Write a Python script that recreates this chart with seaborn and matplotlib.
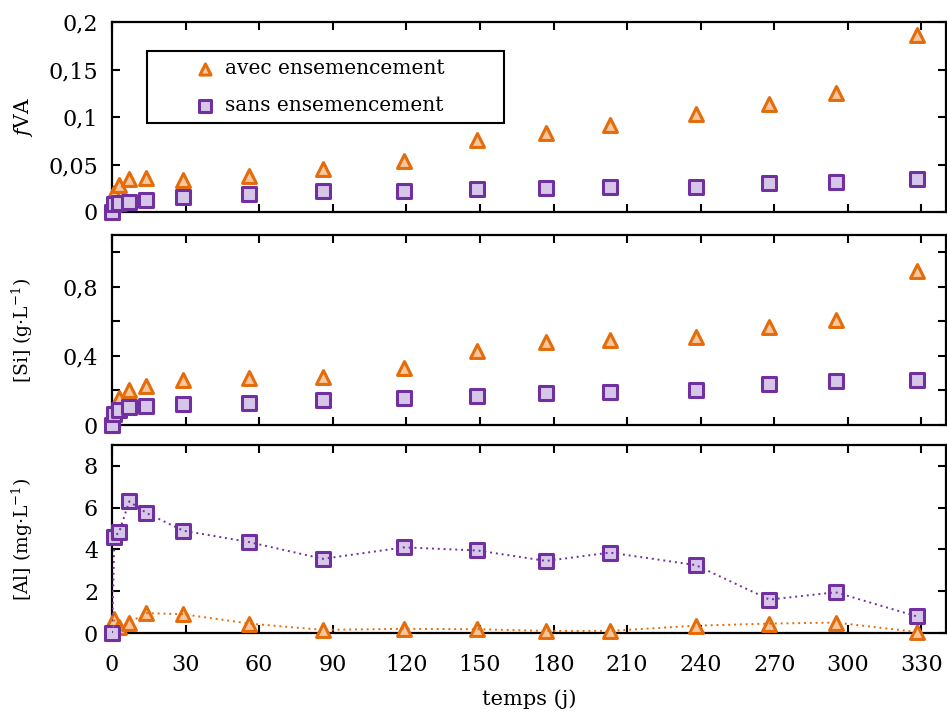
import matplotlib
matplotlib.use("Agg")
import matplotlib.pyplot as plt
import matplotlib.patches as mpatches
import seaborn as sns
import pandas as pd
from matplotlib.ticker import FixedLocator, FuncFormatter

sns.set_style("ticks")
plt.rcParams['font.family'] = ['DejaVu Serif']
plt.rcParams['mathtext.fontset'] = 'dejavuserif'
for k in ['axes.edgecolor', 'text.color', 'xtick.color', 'ytick.color', 'axes.labelcolor']:
    plt.rcParams[k] = 'black'

days = [0, 1, 3, 7, 14, 29, 56, 86, 119, 149, 177, 203, 238, 268, 295, 328]

fva_avec = [0, 0.020, 0.028, 0.035, 0.036, 0.034, 0.038, 0.045, 0.054, 0.076, 0.083,
            0.092, 0.103, 0.114, 0.125, 0.186]
fva_sans = [0, 0.008, 0.010, 0.011, 0.013, 0.016, 0.019, 0.022, 0.022, 0.024, 0.025,
            0.026, 0.026, 0.031, 0.032, 0.035]

si_avec = [0, 0.10, 0.155, 0.205, 0.225, 0.26, 0.27, 0.28, 0.33, 0.43, 0.48,
           0.49, 0.51, 0.57, 0.61, 0.89]
si_sans = [0, 0.065, 0.085, 0.105, 0.11, 0.12, 0.13, 0.145, 0.157, 0.168, 0.185,
           0.19, 0.20, 0.24, 0.255, 0.26]

al_avec = [0, 0.65, 0.3, 0.5, 0.95, 0.9, 0.45, 0.15, 0.2, 0.18, 0.1,
           0.1, 0.35, 0.45, 0.5, 0.05]
al_sans = [0, 4.6, 4.85, 6.3, 5.75, 4.9, 4.35, 3.55, 4.1, 3.95, 3.45,
           3.85, 3.25, 1.6, 1.95, 0.8]

series_names = ["avec ensemencement", "sans ensemencement"]
x_ticks = list(range(0, 331, 30))

orange_edge = "#e46c0a"
orange_fill = "#f9c79e"
purple_edge = "#7030a0"
purple_fill = "#d6c6e8"

styles = {
    series_names[0]: dict(marker="^", edge=orange_edge, fill=orange_fill),
    series_names[1]: dict(marker="s", edge=purple_edge, fill=purple_fill),
}

W, H = 947, 716
fig = plt.figure(figsize=(W / 100, H / 100), dpi=100)

def rect(top_px, bot_px, left_px=112, right_px=946):
    return [left_px / W, 1 - bot_px / H, (right_px - left_px) / W, (bot_px - top_px) / H]

ax1 = fig.add_axes(rect(22, 212))
ax2 = fig.add_axes(rect(235, 425))
ax3 = fig.add_axes(rect(445, 633))

def comma(v, pos):
    if abs(v) < 1e-12:
        return "0"
    s = ("%.2f" % v).rstrip("0").rstrip(".")
    return s.replace(".", ",")

def draw(ax, avec, sans, lines=False):
    for name, vals in zip(series_names, [avec, sans]):
        st = styles[name]
        df = pd.DataFrame({"t": days, "v": vals})
        if lines:
            sns.lineplot(data=df, x="t", y="v", ax=ax, color=st["edge"], lw=1.4,
                         linestyle=(0, (1, 2)), zorder=4, estimator=None, sort=False)
        sns.scatterplot(data=df, x="t", y="v", ax=ax, marker=st["marker"], s=100,
                        color=st["fill"], edgecolor=st["edge"], linewidth=2.2,
                        zorder=3, clip_on=False, label=name)
    ax.set_xlim(0, 340)
    ax.xaxis.set_major_locator(FixedLocator(x_ticks))
    ax.tick_params(direction="in", length=5.5, width=1.5, top=True, right=True,
                   labelsize=16, colors="black")
    ax.tick_params(axis="y", pad=10)
    ax.tick_params(axis="x", pad=15)
    for sp in ax.spines.values():
        sp.set_linewidth(1.6)
        sp.set_color("black")
        sp.set_visible(True)
    ax.set_xlabel("")
    if ax.get_legend() is not None:
        ax.get_legend().remove()

draw(ax1, fva_avec, fva_sans)
draw(ax2, si_avec, si_sans)
draw(ax3, al_avec, al_sans, lines=True)

ax1.set_ylim(0, 0.2)
ax1.yaxis.set_major_locator(FixedLocator([0, 0.05, 0.1, 0.15, 0.2]))
ax1.yaxis.set_major_formatter(FuncFormatter(comma))
ax1.tick_params(labelbottom=False)

ax2.set_ylim(0, 1.1)
ax2.yaxis.set_major_locator(FixedLocator([0, 0.4, 0.8]))
ax2.yaxis.set_minor_locator(FixedLocator([0.2, 0.6, 1.0]))
ax2.tick_params(which="minor", direction="in", length=5.5, width=1.5, right=True,
                colors="black")
ax2.yaxis.set_major_formatter(FuncFormatter(comma))
ax2.tick_params(labelbottom=False)

ax3.set_ylim(0, 9)
ax3.yaxis.set_major_locator(FixedLocator([0, 2, 4, 6, 8]))
ax3.yaxis.set_major_formatter(FuncFormatter(comma))
ax3.set_xlabel("temps (j)", fontsize=15, labelpad=10)

ax1.set_ylabel("$f$VA", fontsize=14.5)
ax2.set_ylabel("[Si] (g·L$^{-1}$)", fontsize=13.5)
ax3.set_ylabel("[Al] (mg·L$^{-1}$)", fontsize=13.5)
for ax in (ax1, ax2, ax3):
    ax.yaxis.set_label_coords(-0.092, 0.5)

handles, labels = ax1.get_legend_handles_labels()
leg = ax1.legend(handles, labels, loc="center left", bbox_to_anchor=(0.097, 0.658),
                 frameon=False, fontsize=14.5, handletextpad=0.4, borderpad=0,
                 labelspacing=0.9, handlelength=1.2, borderaxespad=0, markerscale=0.8)
ax1.add_patch(mpatches.Rectangle((0.042, 0.468), 0.428, 0.379, transform=ax1.transAxes,
                                 fill=False, edgecolor="black", lw=1.5, zorder=10,
                                 clip_on=False))

fig.savefig("out.png", dpi=100)
